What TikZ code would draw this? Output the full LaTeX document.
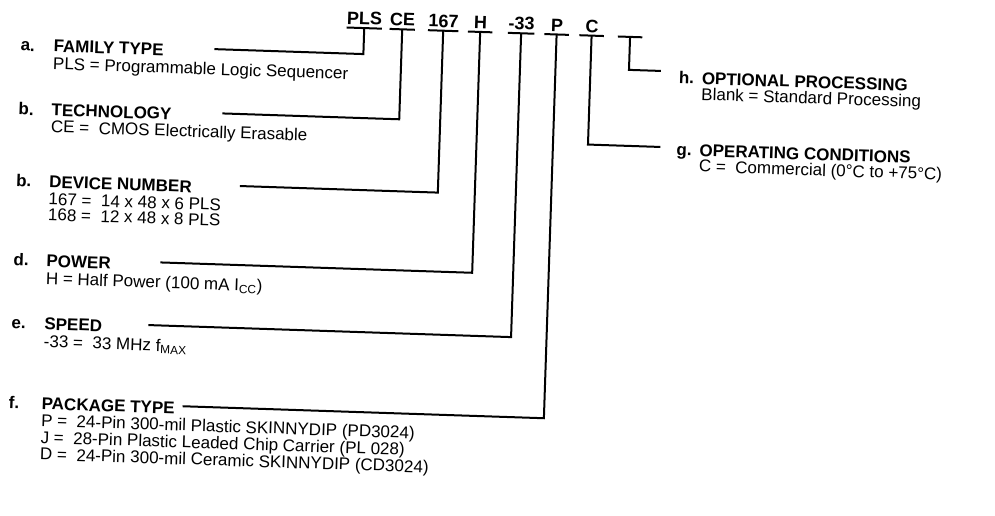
\documentclass[tikz,border=0pt]{standalone}
\usepackage{fontspec}
\setmainfont{Liberation Sans}
\usetikzlibrary{positioning}

\tikzset{
    partcode/.style={font=\bfseries\fontsize{18}{18}\selectfont, inner xsep=0pt, inner ysep=3pt, minimum width=24pt, anchor=south},
    fieldtag/.style={font=\bfseries\fontsize{17}{17}\selectfont, anchor=west, inner sep=0pt, text height=12pt, text depth=0pt},
    fieldhead/.style={fieldtag},
    fielddesc/.style={font=\fontsize{17}{15.5}\selectfont, align=left, inner sep=0pt},
    codebar/.style={line width=2pt},
    leadline/.style={line width=2pt}
}

\begin{document}
\begin{tikzpicture}[x=1pt, y=-1pt]
\useasboundingbox (0,0) rectangle (995,516);
\begin{scope}[rotate=-1.9, transform shape]

% part number fields
\node[partcode] (pls) at (365,16) {PLS};
\node[partcode] (ce) at (403,16) {CE};
\node[partcode] (dev) at (444,16) {167};
\node[partcode] (pwr) at (481,16) {H};
\node[partcode] (spd) at (522,16) {-33};
\node[partcode] (pkg) at (557.5,16) {P};
\node[partcode] (cond) at (592.5,16) {C};
\node[partcode] (opt) at (631,16) {};
\foreach \n in {pls,ce,dev,pwr,spd,pkg,cond,opt}
    \draw[codebar] (\n.south west) -- (\n.south east);

% left column
\node[fieldtag] (tagfam) at (22,44) {a.};
\node[fieldhead] (famhead) at (55,44) {FAMILY TYPE};
\node[fielddesc, below=5pt of famhead.south west, anchor=north west] (famdesc) {PLS = Programmable Logic Sequencer};

\node[fieldtag] (tagtech) at (22,108) {b.};
\node[fieldhead] (techhead) at (55,108) {TECHNOLOGY};
\node[fielddesc, below=4pt of techhead.south west, anchor=north west] (techdesc) {CE =\ \ CMOS Electrically Erasable};

\node[fieldtag] (tagdev) at (22,180) {b.};
\node[fieldhead] (devhead) at (55,180) {DEVICE NUMBER};
\node[fielddesc, below=5pt of devhead.south west, anchor=north west] (devdesc) {167 =\ \ 14 x 48 x 6 PLS\\168 =\ \ 12 x 48 x 8 PLS};

\node[fieldtag] (tagpwr) at (22,259) {d.};
\node[fieldhead] (pwrhead) at (55,259) {POWER};
\node[fielddesc, below=5pt of pwrhead.south west, anchor=north west] (pwrdesc) {H = Half Power (100 mA I\textsubscript{CC})};

\node[fieldtag] (tagspd) at (22,322) {e.};
\node[fieldhead] (spdhead) at (55,322) {SPEED};
\node[fielddesc, below=5pt of spdhead.south west, anchor=north west] (spddesc) {-33 =\ \ 33 MHz f\textsubscript{MAX}};

\node[fieldtag] (tagpkg) at (22,402) {f.};
\node[fieldhead] (pkghead) at (55,402) {PACKAGE TYPE};
\node[fielddesc, below=4pt of pkghead.south west, anchor=north west] (pkgdesc) {P =\ \ 24-Pin 300-mil Plastic SKINNYDIP (PD3024)\\J =\ \ 28-Pin Plastic Leaded Chip Carrier (PL 028)\\D =\ \ 24-Pin 300-mil Ceramic SKINNYDIP (CD3024)};

% right column
\node[fieldtag] (tagopt) at (681,55) {h.};
\node[fieldhead] (opthead) at (704,55) {OPTIONAL PROCESSING};
\node[fielddesc, below=3pt of opthead.south west, anchor=north west] (optdesc) {Blank = Standard Processing};

\node[fieldtag] (tagcond) at (681,127) {g.};
\node[fieldhead] (condhead) at (704,127) {OPERATING CONDITIONS};
\node[fielddesc, below=3pt of condhead.south west, anchor=north west] (conddesc) {C =\ \ Commercial (0°C to +75°C)};

% leader lines
\coordinate (famstart) at (216,42);
\coordinate (techstart) at (226,106);
\coordinate (devstart) at (246,178);
\coordinate (pwrstart) at (169,257);
\coordinate (spdstart) at (159,320);
\coordinate (pkgstart) at (196,400);
\coordinate (optend) at (663,49);
\coordinate (condend) at (665,125);

\draw[leadline] (famstart) -| (pls.south);
\draw[leadline] (techstart) -| (ce.south);
\draw[leadline] (devstart) -| (dev.south);
\draw[leadline] (pwrstart) -| (pwr.south);
\draw[leadline] (spdstart) -| (spd.south);
\draw[leadline] (pkgstart) -| (pkg.south);
\draw[leadline] (opt.south) |- (optend);
\draw[leadline] (cond.south) |- (condend);

\end{scope}
\end{tikzpicture}
\end{document}
